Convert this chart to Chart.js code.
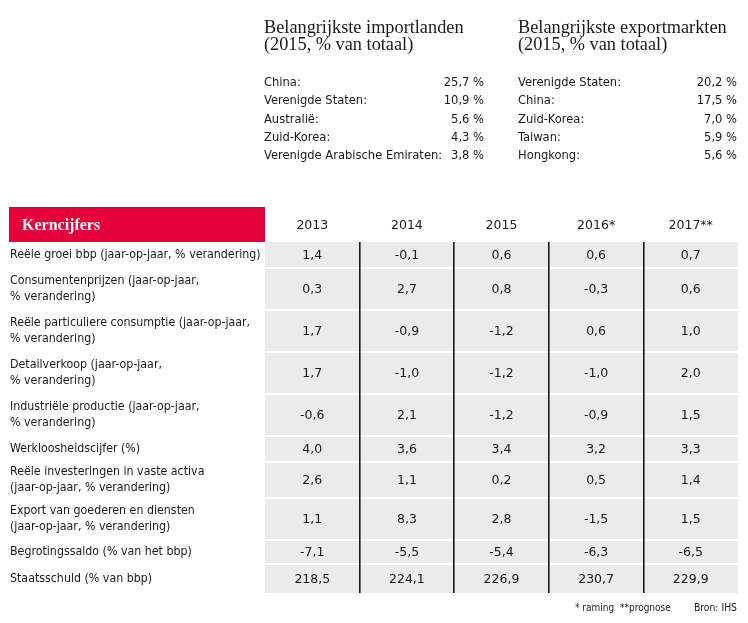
<!DOCTYPE html>
<html>
<head>
<meta charset="utf-8">
<script src="https://cdn.jsdelivr.net/npm/chart.js@4"></script>
<style>
  html, body { margin: 0; background: #fff; }
</style>
</head>
<body>
<canvas id="c" width="748" height="623"></canvas>
<script>
// ---------------------------- Data ----------------------------
const years = ["2013", "2014", "2015", "2016*", "2017**"];

const rowLabels = [
  ["Reële groei bbp (jaar-op-jaar, % verandering)"],
  ["Consumentenprijzen (jaar-op-jaar,", "% verandering)"],
  ["Reële particuliere consumptie (jaar-op-jaar,", "% verandering)"],
  ["Detailverkoop (jaar-op-jaar,", "% verandering)"],
  ["Industriële productie (jaar-op-jaar,", "% verandering)"],
  ["Werkloosheidscijfer (%)"],
  ["Reële investeringen in vaste activa", "(jaar-op-jaar, % verandering)"],
  ["Export van goederen en diensten", "(jaar-op-jaar, % verandering)"],
  ["Begrotingssaldo (% van het bbp)"],
  ["Staatsschuld (% van bbp)"]
];

const v2013 = [1.4, 0.3, 1.7, 1.7, -0.6, 4.0, 2.6, 1.1, -7.1, 218.5];
const v2014 = [-0.1, 2.7, -0.9, -1.0, 2.1, 3.6, 1.1, 8.3, -5.5, 224.1];
const v2015 = [0.6, 0.8, -1.2, -1.2, -1.2, 3.4, 0.2, 2.8, -5.4, 226.9];
const v2016 = [0.6, -0.3, 0.6, -1.0, -0.9, 3.2, 0.5, -1.5, -6.3, 230.7];
const v2017 = [0.7, 0.6, 1.0, 2.0, 1.5, 3.3, 1.4, 1.5, -6.5, 229.9];

const importCountries = ["China:", "Verenigde Staten:", "Australië:", "Zuid-Korea:", "Verenigde Arabische Emiraten:"];
const importShares = [25.7, 10.9, 5.6, 4.3, 3.8];
const exportCountries = ["Verenigde Staten:", "China:", "Zuid-Korea:", "Taiwan:", "Hongkong:"];
const exportShares = [20.2, 17.5, 7.0, 5.9, 5.6];

// --------------------------- Layout ---------------------------
const rowH = [26, 42, 42, 42, 42, 26, 36, 42, 24, 29];   // row heights, px
const bounds = [0];
rowH.forEach(h => bounds.push(bounds[bounds.length - 1] + h));
const centers = rowH.map((h, i) => bounds[i] + h / 2);

// y ticks: row centers carry the labels, inner boundaries carry the white lines
const yTicks = [];
rowLabels.forEach((lab, i) => {
  yTicks.push({ value: centers[i], label: lab, line: false });
  if (i > 0) yTicks.push({ value: bounds[i], label: "", line: true });
});
yTicks.sort((a, b) => a.value - b.value);

const RED = "#e4003a";
const INK = "#1a1a1a";
const NARROW = '"Liberation Sans Narrow", "DejaVu Sans Condensed", sans-serif';
const NUMF = '"DejaVu Sans", Verdana, sans-serif';
const SERIF = '"Liberation Serif", "DejaVu Serif", serif';

const fmt = v => v.toFixed(1).replace(".", ",");
const columns = [v2013, v2014, v2015, v2016, v2017];

// --------------------------- Plugins --------------------------
const tableBg = {
  id: "tableBg",
  beforeDraw(chart) {
    const { ctx, chartArea: a } = chart;
    ctx.save();
    ctx.fillStyle = "#ebebeb";
    ctx.fillRect(a.left, a.top, a.right - a.left, a.bottom - a.top);
    ctx.restore();
  }
};

const cellText = {
  id: "cellText",
  afterDatasetsDraw(chart) {
    const ctx = chart.ctx;
    ctx.save();
    ctx.font = "12.5px " + NUMF;
    ctx.fillStyle = INK;
    ctx.textAlign = "center";
    ctx.textBaseline = "middle";
    chart.data.datasets.forEach((ds, i) => {
      chart.getDatasetMeta(i).data.forEach((pt, j) => {
        ctx.fillText(fmt(ds.data[j].v), pt.x, pt.y + 1);
      });
    });
    ctx.restore();
  }
};

const extras = {
  id: "extras",
  afterDraw(chart) {
    const ctx = chart.ctx;
    ctx.save();

    // header box
    ctx.fillStyle = RED;
    ctx.fillRect(9, 207, 256, 35);
    ctx.fillStyle = "#fff";
    ctx.font = "bold 16px " + SERIF;
    ctx.textBaseline = "alphabetic";
    ctx.textAlign = "left";
    ctx.fillText("Kerncijfers", 22, 230);

    // trade lists
    const block = (x, right, title, names, shares) => {
      ctx.fillStyle = INK;
      ctx.font = "18.3px " + SERIF;
      ctx.textAlign = "left";
      ctx.fillText(title, x, 33);
      ctx.fillText("(2015, % van totaal)", x, 50);
      ctx.font = "12.8px " + NARROW;
      names.forEach((n, i) => {
        const y = 86 + i * 18.3;
        ctx.textAlign = "left";
        ctx.fillText(n, x, y);
        ctx.textAlign = "right";
        ctx.fillText(fmt(shares[i]) + " %", right, y);
      });
    };
    block(264, 484, "Belangrijkste importlanden", importCountries, importShares);
    block(518, 737, "Belangrijkste exportmarkten", exportCountries, exportShares);

    // footer
    ctx.fillStyle = INK;
    ctx.font = "10px " + NARROW;
    ctx.textAlign = "left";
    ctx.fillText("* raming  **prognose", 575, 611);
    ctx.font = "10.3px " + NARROW;
    ctx.textAlign = "right";
    ctx.fillText("Bron: IHS", 737, 611);

    ctx.restore();
  }
};

// ---------------------------- Chart ---------------------------
new Chart(document.getElementById("c"), {
  type: "scatter",
  data: {
    labels: years,
    datasets: columns.map((vals, c) => ({
      label: years[c],
      data: vals.map((v, i) => ({ x: years[c], y: centers[i], v })),
      pointRadius: 0,
      pointHoverRadius: 0
    }))
  },
  options: {
    responsive: false,
    animation: false,
    devicePixelRatio: 1,
    events: [],
    layout: { padding: { top: 207, left: 10, right: 10, bottom: 30 } },
    plugins: { legend: { display: false }, tooltip: { enabled: false } },
    scales: {
      x: {
        type: "category",
        position: "top",
        offset: true,
        afterFit: s => { s.height = 35; },
        border: { display: false },
        grid: {
          offset: true,
          drawTicks: false,
          z: -1,
          lineWidth: 1.6,
          // the first edge and the closing edge (scale context, no index) stay hidden
          color: c => (c.index === undefined || c.index === 0) ? "rgba(0,0,0,0)" : "#1a1a1a"
        },
        ticks: { color: INK, padding: 9, font: { family: NUMF, size: 12.5 } }
      },
      y: {
        type: "linear",
        reverse: true,
        min: 0,
        max: bounds[bounds.length - 1],
        afterFit: s => { s.width = 255; },
        afterBuildTicks: s => { s.ticks = yTicks.map(t => ({ value: t.value })); },
        border: { display: false },
        grid: {
          drawTicks: false,
          z: -2,
          lineWidth: 2,
          color: c => (yTicks[c.index] && yTicks[c.index].line) ? "#ffffff" : "rgba(0,0,0,0)"
        },
        ticks: {
          autoSkip: false,
          crossAlign: "far",
          padding: 0,
          color: INK,
          font: { family: NARROW, size: 12.3, lineHeight: 1.3 },
          callback: (val, i) => yTicks[i].label
        }
      }
    }
  },
  plugins: [tableBg, cellText, extras]
});
</script>
</body>
</html>
